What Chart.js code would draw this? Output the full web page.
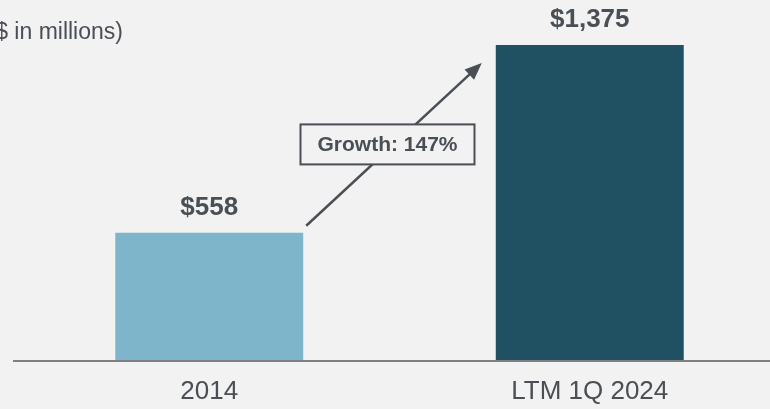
<!DOCTYPE html>
<html>
<head>
<meta charset="utf-8">
<script src="https://cdn.jsdelivr.net/npm/chart.js@4/dist/chart.umd.min.js"></script>
<style>
  html, body { margin: 0; padding: 0; background: #f2f2f2; overflow: hidden; }
  #wrap { position: relative; width: 780px; height: 409px; }
</style>
</head>
<body>
<div id="wrap"><canvas id="revChart"></canvas></div>
<script>
const categories = ["2014", "LTM 1Q 2024"];
const revenue = [558, 1375];
const valueLabels = ["$558", "$1,375"];
const barColors = ["#7fb5ca", "#1f5163"];
const growthText = "Growth: 147%";
const subtitle = "($ in millions)";
const yMax = 1571;

const textColor = "#4a4f55";
const fontFam = "'Liberation Sans', Arial, sans-serif";

// value labels, arrow, growth box, axis line, subtitle
const extras = {
  id: "extras",
  afterDatasetsDraw(chart) {
    const ctx = chart.ctx;
    const meta = chart.getDatasetMeta(0);
    const y0 = chart.scales.y.getPixelForValue(0);

    ctx.save();
    // axis line
    ctx.strokeStyle = "#808080";
    ctx.lineWidth = 2;
    ctx.beginPath();
    ctx.moveTo(13, y0);
    ctx.lineTo(770, y0);
    ctx.stroke();

    // value labels
    ctx.fillStyle = textColor;
    ctx.font = "bold 26px " + fontFam;
    ctx.textAlign = "center";
    ctx.textBaseline = "middle";
    meta.data.forEach(function (bar, i) {
      ctx.fillText(valueLabels[i], bar.x, bar.y - 25);
    });

    // arrow
    const b1 = meta.data[0], b2 = meta.data[1];
    const sx = b1.x + b1.width / 2 + 3, sy = b1.y - 7;
    const ex = b2.x - b2.width / 2 - 14, ey = b2.y + 18;
    ctx.strokeStyle = textColor;
    ctx.fillStyle = textColor;
    ctx.lineWidth = 2.5;
    const ang = Math.atan2(ey - sy, ex - sx);
    ctx.beginPath();
    ctx.moveTo(sx, sy);
    ctx.lineTo(ex - 10 * Math.cos(ang), ey - 10 * Math.sin(ang));
    ctx.stroke();
    ctx.beginPath();
    ctx.moveTo(ex, ey);
    ctx.lineTo(ex - 17 * Math.cos(ang) + 7 * Math.sin(ang), ey - 17 * Math.sin(ang) - 7 * Math.cos(ang));
    ctx.lineTo(ex - 17 * Math.cos(ang) - 7 * Math.sin(ang), ey - 17 * Math.sin(ang) + 7 * Math.cos(ang));
    ctx.closePath();
    ctx.fill();

    // growth box
    const cx = (sx + ex) / 2 - 6.5, cy = (sy + ey) / 2;
    const bw = 174, bh = 40;
    ctx.fillStyle = "#f2f2f2";
    ctx.fillRect(cx - bw / 2, cy - bh / 2, bw, bh);
    ctx.lineWidth = 2;
    ctx.strokeRect(cx - bw / 2, cy - bh / 2, bw, bh);
    ctx.fillStyle = textColor;
    ctx.font = "bold 21px " + fontFam;
    ctx.fillText(growthText, cx, cy + 1);

    // subtitle, cut off at the left edge
    ctx.font = "23px " + fontFam;
    ctx.textAlign = "left";
    ctx.fillText(subtitle, -12.5, 33);
    ctx.restore();
  }
};

new Chart(document.getElementById("revChart"), {
  type: "bar",
  data: {
    labels: categories,
    datasets: [{
      data: revenue,
      backgroundColor: barColors,
      borderWidth: 0,
      categoryPercentage: 1,
      barPercentage: 0.494
    }]
  },
  options: {
    responsive: true,
    maintainAspectRatio: false,
    animation: false,
    layout: { padding: { left: 19, right: 0, top: 0, bottom: 0 } },
    plugins: { legend: { display: false }, tooltip: { enabled: false } },
    scales: {
      x: {
        grid: { display: false, drawTicks: false },
        border: { display: false },
        afterFit(scale) { scale.height = 48; },
        ticks: {
          color: textColor,
          padding: 15,
          font: { family: fontFam, size: 26 }
        }
      },
      y: {
        display: false,
        min: 0,
        max: yMax
      }
    }
  },
  plugins: [extras]
});
</script>
</body>
</html>
